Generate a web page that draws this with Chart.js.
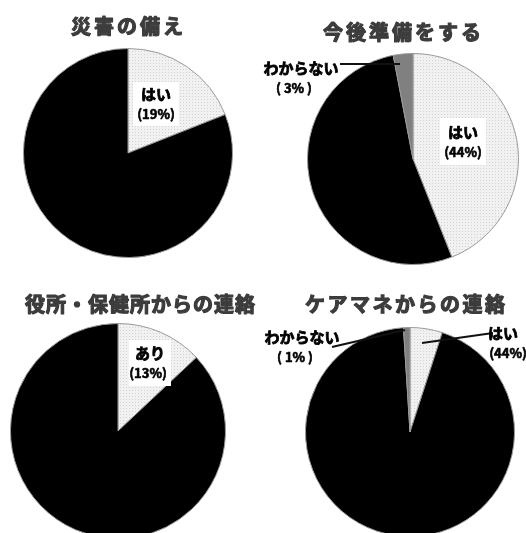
<!DOCTYPE html>
<html>
<head>
<meta charset="utf-8">
<script src="https://cdn.jsdelivr.net/npm/chart.js@4.4.0/dist/chart.umd.min.js"></script>
<style>
  html, body { margin: 0; padding: 0; background: #fff; overflow: hidden; width: 526px; height: 533px; }
  #wrap { position: relative; width: 526px; height: 533px; }
  canvas { position: absolute; left: 0; top: 0; }
</style>
</head>
<body>
<div id="wrap"></div>
<script>
const titles = ['災害の備え', '今後準備をする', '役所・保健所からの連絡', 'ケアマネからの連絡'];

const cats1 = ['はい', 'いいえ'];
const vals1 = [19, 81];
const cats2 = ['はい', 'いいえ', 'わからない'];
const vals2 = [44, 53, 3];
const cats3 = ['あり', 'なし'];
const vals3 = [13, 87];
const cats4 = ['はい', 'いいえ', 'わからない'];
const vals4 = [5, 94, 1];

// percentage text as printed (chart 4 prints 44% on the small slice)
const pct1 = ['(19%)', ''];
const pct2 = ['(44%)', '', '( 3% )'];
const pct3 = ['(13%)', ''];
const pct4 = ['(44%)', '', '( 1% )'];

const W = 526, H = 540;
const FONT = '"Noto Sans CJK JP", "Noto Sans", sans-serif';

// dotted light fill
function dots() {
  const c = document.createElement('canvas');
  c.width = 3; c.height = 3;
  const g = c.getContext('2d');
  g.fillStyle = '#f1f1f1';
  g.fillRect(0, 0, 3, 3);
  g.fillStyle = '#d2d2d2';
  g.fillRect(0, 0, 1, 1);
  return g.createPattern(c, 'repeat');
}

const pies = [
  { cats: cats1, vals: vals1, pct: pct1, cx: 128, cy: 153, r: 105, tx: 127, ty: 26, ls: 3,
    labels: [{ i: 0, x: 156, y: 94, x2: 156, box: [133, 82, 46, 44] }] },
  { cats: cats2, vals: vals2, pct: pct2, cx: 413, cy: 159, r: 106, tx: 402, ty: 32, ls: 3,
    labels: [{ i: 0, x: 463, y: 132, x2: 463, box: [440, 118, 46, 47] },
             { i: 2, x: 301, y: 68, x2: 294, line: [340, 64, 400, 64] }] },
  { cats: cats3, vals: vals3, pct: pct3, cx: 118, cy: 431, r: 108, tx: 140, ty: 304, ls: 1,
    labels: [{ i: 0, x: 150, y: 353, x2: 148, box: [129, 340, 42, 46] }] },
  { cats: cats4, vals: vals4, pct: pct4, cx: 410, cy: 432, r: 105, tx: 405, ty: 304, ls: 2.5,
    labels: [{ i: 2, x: 302, y: 337, x2: 295, line: [332, 347, 405, 330] },
             { i: 0, x: 503, y: 333, x2: 508, line: [422, 343, 493, 333] }] }
];

function heavy(ctx, text, x, y, w) {
  ctx.lineWidth = w;
  ctx.lineJoin = 'round';
  ctx.strokeText(text, x, y);
  ctx.fillText(text, x, y);
}

const textPlugin = {
  id: 'texts',
  afterDraw(chart) {
    const p = chart.options.plugins.texts;
    const ctx = chart.ctx;
    ctx.save();
    ctx.textAlign = 'center';
    ctx.textBaseline = 'middle';
    // title
    ctx.fillStyle = '#3c3c3c';
    ctx.strokeStyle = '#3c3c3c';
    ctx.font = 'bold 20px ' + FONT;
    ctx.letterSpacing = p.ls + 'px';
    heavy(ctx, p.title, p.tx + p.ls / 2, p.ty, 1.2);
    ctx.letterSpacing = '0px';
    p.labels.forEach(l => {
      if (l.box) {
        ctx.fillStyle = '#fff';
        ctx.fillRect(l.box[0], l.box[1], l.box[2], l.box[3]);
      }
      if (l.line) {
        ctx.strokeStyle = '#111';
        ctx.lineWidth = 2;
        ctx.beginPath();
        ctx.moveTo(l.line[0], l.line[1]);
        ctx.lineTo(l.line[2], l.line[3]);
        ctx.stroke();
      }
      ctx.fillStyle = '#000';
      ctx.strokeStyle = '#000';
      ctx.font = 'bold 15px ' + FONT;
      heavy(ctx, p.cats[l.i], l.x, l.y, 0.8);
      ctx.font = 'bold 13px ' + FONT;
      heavy(ctx, p.pct[l.i], l.x2, l.y + 20, 0.6);
    });
    ctx.restore();
  }
};

const wrap = document.getElementById('wrap');
const pattern = dots();

pies.forEach((p, k) => {
  const cv = document.createElement('canvas');
  cv.width = W; cv.height = H;
  wrap.appendChild(cv);
  const colors = p.vals.map((v, j) => j === 0 ? pattern : (j === 1 ? '#000' : '#808080'));
  new Chart(cv, {
    type: 'pie',
    data: {
      labels: p.cats,
      datasets: [{
        data: p.vals,
        backgroundColor: colors,
        borderColor: '#9a9a9a',
        borderWidth: 1
      }]
    },
    options: {
      responsive: false,
      animation: false,
      events: [],
      layout: {
        padding: { left: p.cx - p.r, top: p.cy - p.r, right: W - p.cx - p.r, bottom: H - p.cy - p.r }
      },
      plugins: {
        legend: { display: false },
        tooltip: { enabled: false },
        texts: { title: titles[k], tx: p.tx, ty: p.ty, ls: p.ls, labels: p.labels, cats: p.cats, pct: p.pct }
      }
    },
    plugins: [textPlugin]
  });
});
</script>
</body>
</html>
